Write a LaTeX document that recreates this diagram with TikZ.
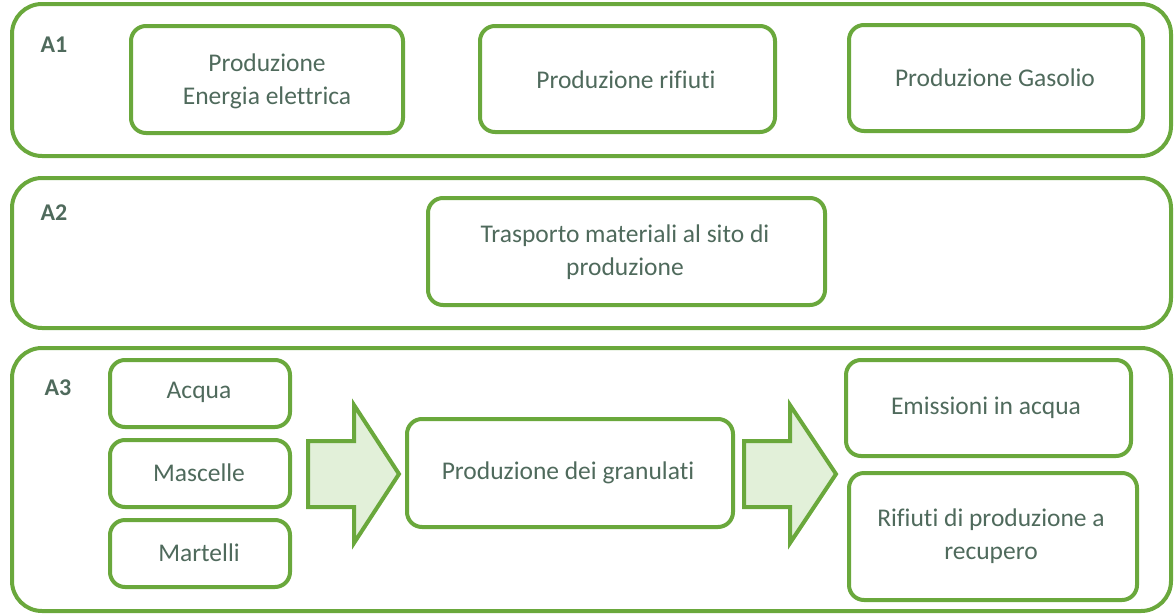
\documentclass[tikz,border=0pt]{standalone}
\usepackage{fontspec}
\setmainfont{Carlito}[Ligatures={NoCommon}]
\definecolor{gstroke}{HTML}{6AA83C}
\definecolor{gfill}{HTML}{E2F0D9}
\definecolor{gtext}{HTML}{4F6A5C}
\tikzset{
  outerbox/.style={draw=gstroke, line width=4pt, rounded corners=30pt},
  innerbox/.style={draw=gstroke, line width=4pt, rounded corners=15pt, fill=white},
  boxtext/.style={text=gtext, font=\fontsize{25.5}{33}\selectfont, align=center},
  lbl/.style={text=gtext, font=\fontsize{24}{28}\selectfont\bfseries},
  bigarrow/.style={draw=gstroke, line width=4pt, fill=gfill, line join=miter}
}
\begin{document}
\begin{tikzpicture}[x=1pt,y=-1pt]
\useasboundingbox (0,0) rectangle (1174,613);
% outer groups
\draw[outerbox] (12,4) rectangle (1171,156);
\draw[outerbox] (12,178) rectangle (1171,328);
\draw[outerbox] (12,348) rectangle (1171,611);
\node[lbl] (a1) at (54,45) {A1};
\node[lbl] (a2) at (54,213) {A2};
\node[lbl] (a3) at (58,388) {A3};
% A1
\draw[innerbox] (131,26) rectangle (403,133);
\node[boxtext] (pe) at (267,81) {Produzione\\Energia elettrica};
\draw[innerbox] (480,26) rectangle (775,132);
\node[boxtext] (pr) at (626,80) {Produzione rifiuti};
\draw[innerbox] (849,25) rectangle (1143,131);
\node[boxtext] (pg) at (995,78) {Produzione Gasolio};
% A2
\draw[innerbox] (428,198) rectangle (825,305);
\node[boxtext] (tr) at (625,252) {Trasporto materiali al sito di\\produzione};
% A3 inputs
\draw[innerbox] (110,360) rectangle (290,427);
\node[boxtext] (acq) at (199,392) {Acqua};
\draw[innerbox] (110,440) rectangle (290,507);
\node[boxtext] (mas) at (199,473) {Mascelle};
\draw[innerbox] (110,520) rectangle (290,587);
\node[boxtext] (mar) at (199,553) {Martelli};
% arrows
\draw[bigarrow] (308,441) -- (354,441) -- (354,405) -- (399,474) -- (354,543) -- (354,507) -- (308,507) -- cycle;
\draw[bigarrow] (744,441) -- (790,441) -- (790,405) -- (836,474) -- (790,543) -- (790,507) -- (744,507) -- cycle;
% centre
\draw[innerbox] (407,419) rectangle (733,527);
\node[boxtext] (gr) at (568,473) {Produzione dei granulati};
% outputs
\draw[innerbox] (846,360) rectangle (1131,456);
\node[boxtext] (em) at (986,408) {Emissioni in acqua};
\draw[innerbox] (849,473) rectangle (1137,600);
\node[boxtext] (ri) at (991,536) {Rifiuti di produzione a\\recupero};
\end{tikzpicture}
\end{document}
